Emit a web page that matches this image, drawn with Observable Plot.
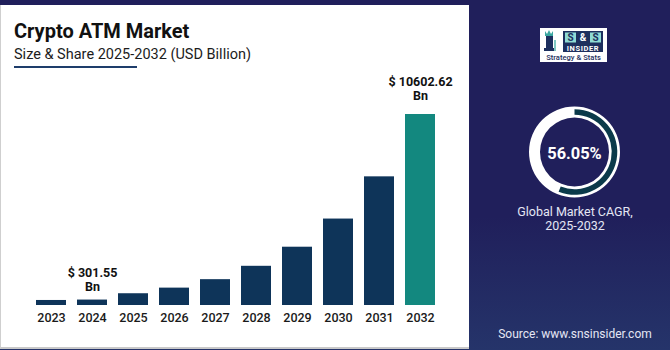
<!DOCTYPE html>
<html>
<head>
<meta charset="utf-8">
<script src="https://cdn.jsdelivr.net/npm/d3@7"></script>
<script src="https://cdn.jsdelivr.net/npm/@observablehq/plot@0.6"></script>
<style>
  body { margin: 0; }
  #root { position: relative; width: 670px; height: 350px; overflow: hidden;
    background: linear-gradient(#201f5b 0%, #201f5b 62%, #25346a 100%);
    font-family: Roboto, "Noto Sans", sans-serif; }
  #panel { position: absolute; left: 0; top: 5px; width: 469px; height: 344px; background: #fff;
    border-left: 1px solid #cfcfcf; border-bottom: 2px solid #c9c9c9; box-sizing: border-box; }
  #title { position: absolute; left: 14px; top: 21px; font-size: 20px; line-height: 20px; font-weight: 700; color: #111; white-space: nowrap; }
  #subtitle { position: absolute; left: 14px; top: 47.5px; font-size: 14.5px; line-height: 14.5px; color: #1c1c1c; white-space: nowrap; }
  #underline { position: absolute; left: 14px; top: 66px; width: 123px; height: 2px; background: #1e3d6b; }
  #chart { position: absolute; left: 0; top: 0; }
  #chart g[aria-label="x-axis tick label"] text { font-weight: 500; }
  #donut { position: absolute; left: 480px; top: 80px; }
  #cagrLabel { position: absolute; left: 480px; top: 205px; width: 190px; text-align: center;
    font-size: 12.5px; line-height: 14px; color: #e4e6f4; }
  #source { position: absolute; left: 480px; top: 327px; width: 190px; text-align: center;
    font-size: 12px; line-height: 14px; color: #e4e6f4; }
  #logo { position: absolute; left: 540px; top: 28px; }
</style>
</head>
<body>
<div id="root">
  <div id="panel"></div>
  <div id="title">Crypto ATM Market</div>
  <div id="subtitle">Size &amp; Share 2025-2032 (USD Billion)</div>
  <div id="underline"></div>
  <div id="chart"></div>
  <svg id="logo" width="68" height="35" viewBox="0 0 68 35">
    <rect x="0" y="0" width="67" height="34" fill="#ffffff"/>
    <path d="M5 3 L7 6 L9 2 L11 6 L13 3 L13 8 L5 8 Z" fill="#3aa6a0"/>
    <rect x="6" y="8" width="7" height="14" fill="#1d2f5e"/>
    <rect x="4" y="20" width="11" height="3" fill="#1d2f5e"/>
    <rect x="14" y="12" width="2" height="11" fill="#7fc8c2"/>
    <rect x="23" y="3" width="40" height="21" fill="#1d2f5e"/>
    <rect x="25" y="4.5" width="11" height="10" fill="#8fdbd4"/>
    <rect x="50" y="4.5" width="11" height="10" fill="#8fdbd4"/>
    <text x="30.5" y="13" text-anchor="middle" font-size="10" font-weight="700" fill="#1d2f5e" font-family="Roboto">S</text>
    <text x="43" y="13" text-anchor="middle" font-size="10" font-weight="700" fill="#ffffff" font-family="Roboto">&amp;</text>
    <text x="55.5" y="13" text-anchor="middle" font-size="10" font-weight="700" fill="#1d2f5e" font-family="Roboto">S</text>
    <text x="43" y="22.5" text-anchor="middle" font-size="7.5" font-weight="700" fill="#ffffff" font-family="Roboto" letter-spacing="0.6">INSIDER</text>
    <text x="33.5" y="32" text-anchor="middle" font-size="7.6" font-weight="500" fill="#1d2f5e" font-family="Roboto">Strategy &amp; Stats</text>
  </svg>
  <svg id="donut" width="190" height="180"></svg>
  <div id="cagrLabel">Global Market CAGR,<br>2025-2032</div>
  <div id="source">Source: www.snsinsider.com</div>
</div>
<script>
const years = ["2023", "2024", "2025", "2026", "2027", "2028", "2029", "2030", "2031", "2032"];
const values = [279, 301.55, 653, 965, 1434, 2176, 3236, 4799, 7142, 10602.62];
const highlightYear = "2032";
const labelYears = ["2024", "2032"];
const labelValues = ["301.55", "10602.62"];
const cagr = 56.05;

const data = years.map((y, i) => ({ year: y, value: values[i], kind: y === highlightYear ? "highlight" : "base" }));
const labels = labelYears.map((y, i) => ({ year: y, value: values[years.indexOf(y)], text: `$ ${labelValues[i]}\nBn` }));

const chart = Plot.plot({
  width: 469,
  height: 350,
  marginLeft: 21,
  marginRight: 20,
  marginTop: 114,
  marginBottom: 45,
  x: { domain: years, padding: 0.28, label: null, tickSize: 0, tickPadding: 8 },
  y: { axis: null, domain: [0, d3.max(values)] },
  color: { domain: ["base", "highlight"], range: ["#0e3459", "#13887f"] },
  style: { background: "transparent", fontFamily: "Roboto, sans-serif", fontSize: "12.5px", color: "#1a1a1a", overflow: "visible" },
  marks: [
    Plot.barY(data, { x: "year", y: "value", fill: "kind" }),
    Plot.text(labels.slice(0, 1), { x: "year", y: "value", text: "text", lineAnchor: "bottom", lineHeight: 1.12, dy: -9, fontWeight: "bold", fontSize: 12.5, fill: "#111" }),
    Plot.text(labels.slice(1), { x: "year", y: "value", text: "text", lineAnchor: "bottom", lineHeight: 1.12, dy: -15, fontWeight: "bold", fontSize: 12.5, fill: "#111" })
  ]
});
document.getElementById("chart").appendChild(chart);

// CAGR ring
const svg = d3.select("#donut");
const g = svg.append("g").attr("transform", "translate(94.5,72)");
const angle = d3.scaleLinear().domain([0, 100]).range([0, 2 * Math.PI]);
g.append("path").attr("d", d3.arc()({ innerRadius: 34.5, outerRadius: 45.5, startAngle: 0, endAngle: 2 * Math.PI })).attr("fill", "#ffffff");
g.append("path").attr("d", d3.arc()({ innerRadius: 37.2, outerRadius: 42.8, startAngle: 0, endAngle: angle(cagr) })).attr("fill", "#0b3a4a");
g.append("text").attr("text-anchor", "middle").attr("dy", "0.36em").attr("y", 0.7)
  .attr("font-size", 16.4).attr("font-weight", 700).attr("fill", "#ffffff").attr("font-family", "Roboto, sans-serif")
  .text(`${cagr.toFixed(2)}%`);
</script>
</body>
</html>
